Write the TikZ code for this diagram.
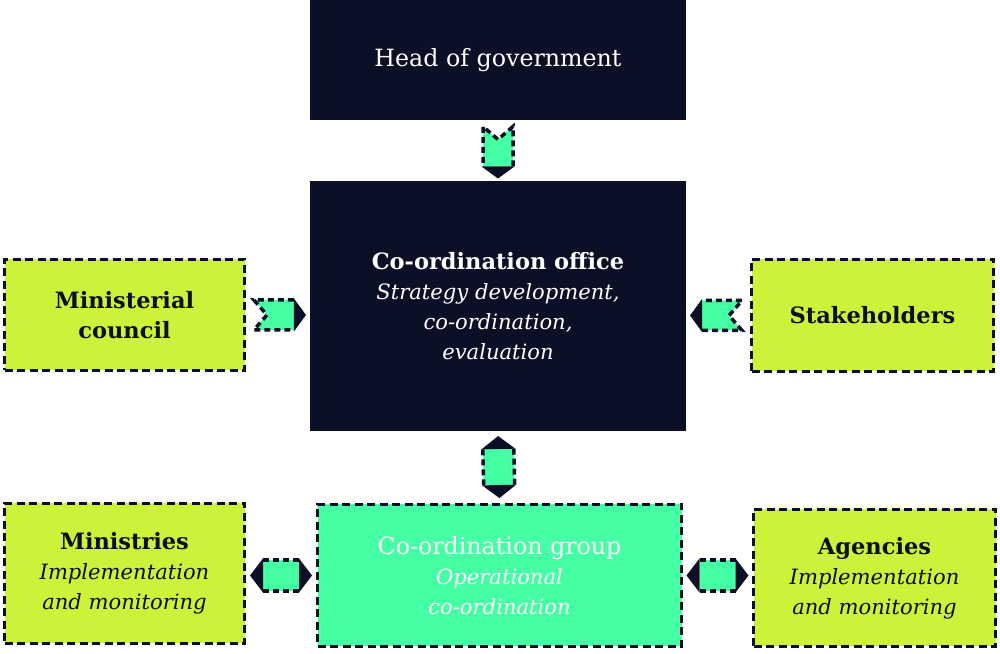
\documentclass[tikz,border=0pt]{standalone}
\usepackage{fontspec}
\setmainfont{DejaVu Serif}
\definecolor{navy}{RGB}{11,16,38}
\definecolor{lime}{RGB}{204,242,58}
\definecolor{mint}{RGB}{68,255,164}
\newcommand{\boxtitle}{\fontsize{12.8}{17}\selectfont\bfseries}
\newcommand{\boxnote}{\fontsize{12}{17}\selectfont\mdseries\itshape}
\begin{document}
\begin{tikzpicture}[
  dark/.style={fill=navy,text=white,align=center,font=\fontsize{13.5}{17}\selectfont},
  side/.style={fill=lime,draw=navy,line width=.07cm,dash pattern=on .16cm off .09cm,
    text=navy,align=center,font=\boxtitle},
  group/.style={fill=mint,draw=navy,line width=.07cm,dash pattern=on .16cm off .09cm,
    text=white,align=center,font=\fontsize{13.5}{17}\selectfont},
  pics/tag/.style={code={
    \fill[mint] (-.48,.3)--(.32,.3)--(.32,-.3)--(-.48,-.3)--(-.22,0)--cycle;
    \draw[navy,line width=.07cm,dash pattern=on .12cm off .08cm]
      (.32,.3)--(-.48,.3)--(-.22,0)--(-.48,-.3)--(.32,-.3);
    \fill[navy] (.32,.33)--(.56,0)--(.32,-.33)--cycle;
  }},
  pics/twotag/.style={code={
    \fill[mint] (-.36,-.31) rectangle (.36,.31);
    \draw[navy,line width=.07cm,dash pattern=on .12cm off .08cm]
      (-.36,.31)--(.36,.31) (-.36,-.31)--(.36,-.31);
    \fill[navy] (-.36,.34)--(-.62,0)--(-.36,-.34)--cycle;
    \fill[navy] (.36,.34)--(.62,0)--(.36,-.34)--cycle;
  }}
]
  \useasboundingbox (0,0) rectangle (20,13.08);

  \node[dark,minimum width=7.52cm,minimum height=2.4cm] (head) at (9.96,11.88)
    {Head of government};
  \node[dark,minimum width=7.52cm,minimum height=5.0cm] (office) at (9.96,6.96)
    {{\boxtitle Co-ordination office}\\\boxnote Strategy development,\\\boxnote co-ordination,\\\boxnote evaluation};

  \node[side,minimum width=4.8cm,minimum height=2.22cm] (council) at (2.49,6.78)
    {Ministerial\\council};
  \node[side,minimum width=4.84cm,minimum height=2.24cm] (stake) at (17.45,6.77)
    {Stakeholders};

  \node[side,minimum width=4.8cm,minimum height=2.8cm] (minis) at (2.49,1.61)
    {Ministries\\\boxnote Implementation\\\boxnote and monitoring};
  \node[group,minimum width=7.28cm,minimum height=2.84cm] (cgroup) at (9.99,1.57)
    {Co-ordination group\\\boxnote Operational\\\boxnote co-ordination};
  \node[side,minimum width=4.84cm,minimum height=2.74cm] (agen) at (17.49,1.52)
    {Agencies\\\boxnote Implementation\\\boxnote and monitoring};

  \path (head.south)--(office.north) pic[pos=.5,sloped,allow upside down] {tag};
  \path (council.east)--(council.east-|office.west) pic[pos=.5,sloped,allow upside down] {tag};
  \path (stake.west)--(stake.west-|office.east) pic[pos=.5,sloped,allow upside down] {tag};
  \path (office.south)--(cgroup.north) pic[pos=.5,sloped,allow upside down] {twotag};
  \path (cgroup.west)--(cgroup.west-|minis.east) pic[pos=.5,sloped,allow upside down] {twotag};
  \path (cgroup.east)--(cgroup.east-|agen.west) pic[pos=.5,sloped,allow upside down] {twotag};
\end{tikzpicture}
\end{document}
